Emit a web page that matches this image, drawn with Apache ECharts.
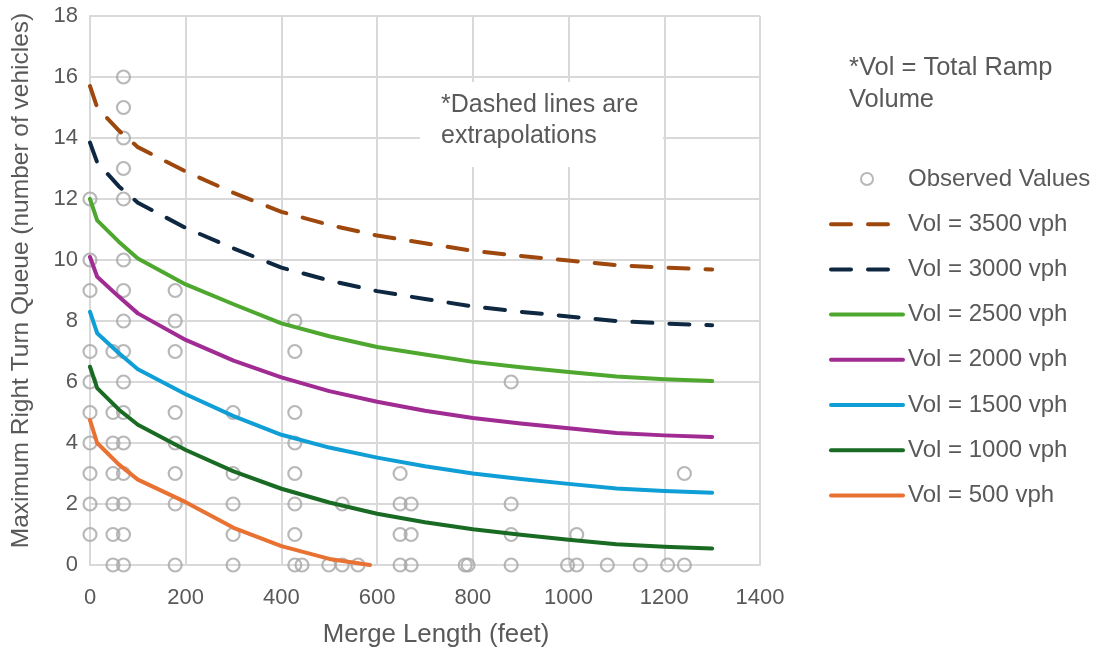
<!DOCTYPE html>
<html>
<head>
<meta charset="utf-8">
<script src="https://cdn.jsdelivr.net/npm/echarts@6/dist/echarts.min.js"></script>
<style>html,body{margin:0;padding:0;background:#fff}#c{width:1097px;height:653px}</style>
</head>
<body>
<div id="c"></div>
<script>
// ---- data ----
var curveLengths = [0, 15, 60, 100, 200, 300, 400, 500, 600, 700, 800, 900, 1000, 1100, 1200, 1300];
var vol3500 = [15.7, 15.0, 14.25, 13.7, 12.9, 12.2, 11.58, 11.15, 10.8, 10.55, 10.3, 10.13, 9.98, 9.83, 9.75, 9.69];
var vol3000 = [13.85, 13.2, 12.42, 11.88, 11.05, 10.38, 9.75, 9.33, 8.98, 8.72, 8.48, 8.3, 8.15, 8.0, 7.92, 7.86];
var vol2500 = [12.0, 11.3, 10.6, 10.05, 9.2, 8.55, 7.92, 7.5, 7.15, 6.9, 6.66, 6.48, 6.33, 6.18, 6.09, 6.03];
var vol2000 = [10.1, 9.45, 8.8, 8.25, 7.38, 6.7, 6.15, 5.7, 5.35, 5.06, 4.82, 4.64, 4.48, 4.33, 4.25, 4.2];
var vol1500 = [8.3, 7.6, 6.95, 6.42, 5.6, 4.88, 4.27, 3.85, 3.52, 3.24, 3.0, 2.82, 2.66, 2.51, 2.43, 2.37];
var vol1000 = [6.5, 5.8, 5.1, 4.6, 3.77, 3.07, 2.5, 2.05, 1.68, 1.4, 1.17, 0.99, 0.83, 0.68, 0.6, 0.54];
var vol500Lengths = [0, 15, 60, 100, 200, 300, 400, 500, 585];
var vol500 = [4.75, 4.0, 3.3, 2.8, 2.06, 1.22, 0.62, 0.2, 0];

var obsLengths = [0, 48, 70, 178, 299, 428, 443, 499, 527, 560, 648, 671, 784, 790, 880, 998, 1017, 1081, 1150, 1207, 1242];
var obsQueues = [
  [1, 2, 3, 4, 5, 6, 7, 9, 10, 12],
  [0, 1, 2, 3, 4, 5, 7],
  [0, 1, 2, 3, 4, 5, 6, 7, 8, 9, 10, 12, 13, 14, 15, 16],
  [0, 2, 3, 4, 5, 7, 8, 9],
  [0, 1, 2, 3, 5],
  [0, 1, 2, 3, 4, 5, 7, 8],
  [0],
  [0],
  [0, 2],
  [0],
  [0, 1, 2, 3],
  [0, 1, 2],
  [0],
  [0],
  [0, 1, 2, 6],
  [0],
  [0, 1],
  [0],
  [0],
  [0],
  [0, 3]
];
var xTicks = [0, 200, 400, 600, 800, 1000, 1200, 1400];
var yTicks = [0, 2, 4, 6, 8, 10, 12, 14, 16, 18];

// ---- build ----
function pairs(xs, ys) { return xs.map(function (x, i) { return [x, ys[i]]; }); }
var obsData = [];
obsLengths.forEach(function (x, i) { obsQueues[i].forEach(function (q) { obsData.push([x, q]); }); });

var FONT = 'Liberation Sans';
var GRAY = '#595959';

function lineSeries(name, data, color, dashed) {
  return {
    name: name, type: 'line', data: data, symbol: 'none', smooth: false,
    lineStyle: { color: color, width: 4, type: dashed ? [20, 17] : 'solid', cap: 'round', join: 'round' },
    itemStyle: { color: color },
    z: 3
  };
}
var lineNames = ['Vol = 3500 vph', 'Vol = 3000 vph', 'Vol = 2500 vph', 'Vol = 2000 vph', 'Vol = 1500 vph', 'Vol = 1000 vph', 'Vol = 500 vph'];
var legendData = [{ name: 'Observed Values' }].concat(lineNames.map(function (n) {
  return { name: n, itemStyle: { opacity: 0 } };
}));

var chart = echarts.init(document.getElementById('c'), null, { renderer: 'canvas' });
chart.setOption({
  animation: false,
  backgroundColor: '#fff',
  textStyle: { fontFamily: FONT },
  grid: { left: 90, right: 337, top: 16, bottom: 88, containLabel: false },
  xAxis: {
    type: 'value', min: xTicks[0], max: xTicks[xTicks.length - 1], interval: 200,
    name: 'Merge Length (feet)', nameLocation: 'middle', nameGap: 57,
    nameTextStyle: { color: GRAY, fontSize: 25.8, fontFamily: FONT, padding: [0, 0, 0, 22] },
    axisLine: { show: true, lineStyle: { color: '#D9D9D9', width: 2 } },
    axisTick: { show: false },
    axisLabel: { color: GRAY, fontSize: 22, margin: 22, fontFamily: FONT, formatter: function (v) { return String(v); } },
    splitLine: { show: true, lineStyle: { color: '#D9D9D9', width: 2 } }
  },
  yAxis: {
    type: 'value', min: yTicks[0], max: yTicks[yTicks.length - 1], interval: 2,
    name: 'Maximum Right Turn Queue (number of vehicles)', nameLocation: 'middle', nameGap: 56,
    nameTextStyle: { color: GRAY, fontSize: 24.5, fontFamily: FONT, padding: [0, 0, 0, 20] },
    axisLine: { show: true, lineStyle: { color: '#D9D9D9', width: 2 } },
    axisTick: { show: false },
    axisLabel: { color: GRAY, fontSize: 22, margin: 12, fontFamily: FONT, formatter: function (v) { return String(v); } },
    splitLine: { show: true, lineStyle: { color: '#D9D9D9', width: 2 } }
  },
  legend: {
    orient: 'vertical', left: 829, top: 167, padding: 0,
    itemWidth: 72, itemHeight: 12, itemGap: 21.2,
    lineStyle: { width: 4 },
    textStyle: { color: GRAY, fontSize: 24, fontFamily: FONT },
    data: legendData
  },
  graphic: [
    { type: 'rect', left: 420, top: 82, shape: { width: 243, height: 85 }, style: { fill: '#fff' }, z: 10 },
    { type: 'text', left: 441, top: 90, z: 11,
      style: { text: '*Dashed lines are\nextrapolations', fill: GRAY, font: '25px "Liberation Sans"', lineHeight: 31 } },
    { type: 'text', left: 849, top: 52, z: 11,
      style: { text: '*Vol = Total Ramp\nVolume', fill: GRAY, font: '25.5px "Liberation Sans"', lineHeight: 32 } }
  ],
  series: [
    {
      name: 'Observed Values', type: 'scatter', data: obsData, symbol: 'circle', symbolSize: 13,
      itemStyle: { color: 'rgba(255,255,255,0)', borderColor: '#A6A6A6', borderWidth: 2.2 },
      z: 2
    },
    lineSeries(lineNames[0], pairs(curveLengths, vol3500), '#9E480E', true),
    lineSeries(lineNames[1], pairs(curveLengths, vol3000), '#0E2841', true),
    lineSeries(lineNames[2], pairs(curveLengths, vol2500), '#4EA72E', false),
    lineSeries(lineNames[3], pairs(curveLengths, vol2000), '#A02B93', false),
    lineSeries(lineNames[4], pairs(curveLengths, vol1500), '#0F9ED5', false),
    lineSeries(lineNames[5], pairs(curveLengths, vol1000), '#196B24', false),
    lineSeries(lineNames[6], pairs(vol500Lengths, vol500), '#E97132', false)
  ]
});
</script>
</body>
</html>
